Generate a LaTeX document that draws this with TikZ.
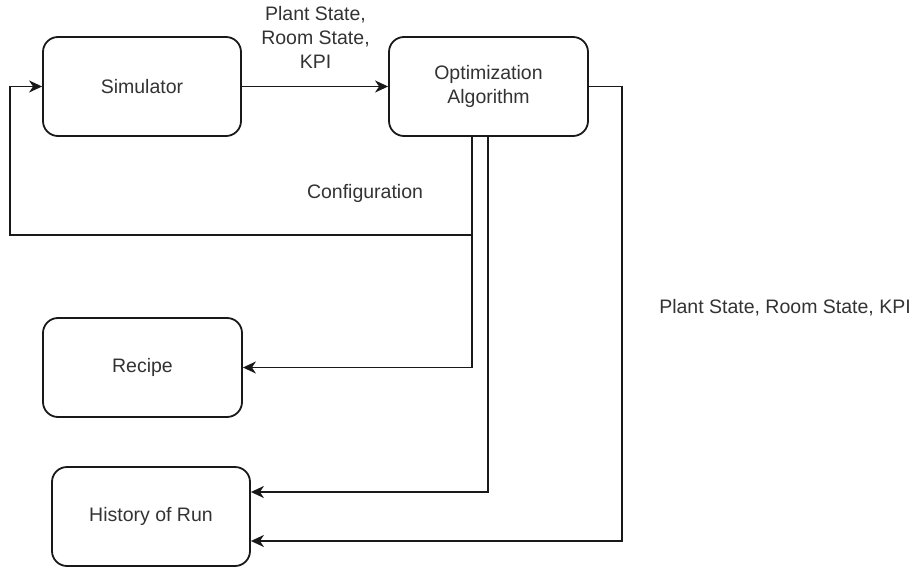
\documentclass[tikz,border=0pt]{standalone}
\usepackage{fontspec}
\setmainfont{Liberation Sans}
\usetikzlibrary{arrows.meta}
\begin{document}
\begin{tikzpicture}[x=1pt,y=-1pt,
  every node/.style={font=\fontsize{19.5}{24}\selectfont, text=black!80},
  block/.style={draw=black!90, line width=1.8pt, rounded corners=15pt,
    minimum width=198pt, minimum height=99pt, inner sep=0pt, align=center},
  lbl/.style={align=center, inner sep=0pt},
  arr/.style={draw=black!90, line width=1.8pt,
    -{Stealth[length=13pt,width=12pt,inset=4pt]}}]
\useasboundingbox (0,0) rectangle (917,569);

% boxes
\node[block] (sim)     at (142,86.5)   {Simulator};
\node[block, minimum width=199pt] (opt) at (488.5,86.5) {Optimization\\Algorithm};
\node[block, minimum width=199pt] (recipe) at (142.5,367.5) {Recipe};
\node[block] (history) at (151,516.5)  {History of Run};

% left turning point of the configuration loop
\coordinate (loop) at (10,235);

% connectors
\draw[arr] (sim.east) -- (opt.west);
\draw[arr] ([xshift=-16.5pt]opt.south) |- (loop) |- (sim.west);
\draw[arr] ([xshift=-16.5pt]opt.south) |- (recipe.east);
\draw[arr] ([xshift=-0.5pt]opt.south) |- ([yshift=24.5pt]history.east);
\draw[arr] (opt.east) -- ++(33,0) |- ([yshift=-24.5pt]history.east);

% labels
\node[lbl] (lsim) at (315.5,37) {Plant State,\\Room State,\\KPI};
\node[lbl] (lcfg) at (365,193) {Configuration};
\node[lbl] (lrun) at (785,308) {Plant State, Room State, KPI};
\end{tikzpicture}
\end{document}
